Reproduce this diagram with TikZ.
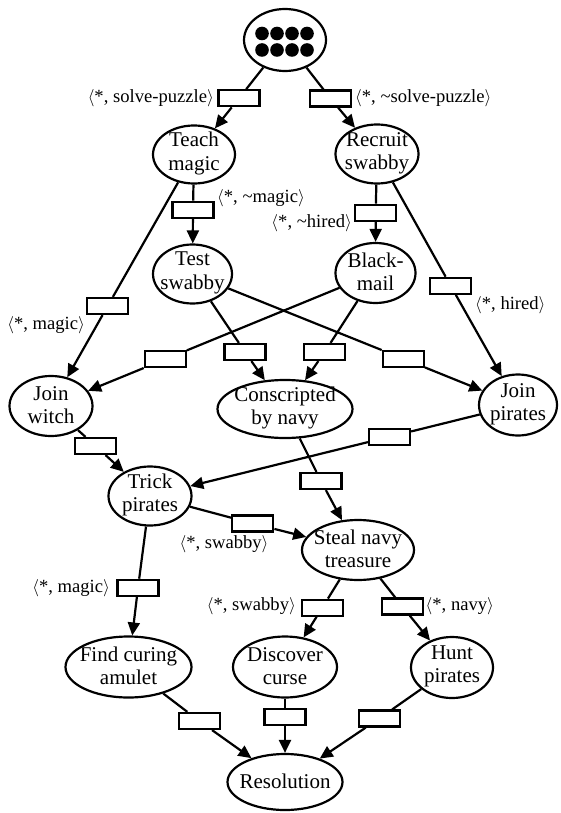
\documentclass[tikz,border=0pt]{standalone}
\usepackage{fontspec}
\setmainfont{Liberation Serif}
\usetikzlibrary{shapes.geometric,arrows.meta}
\begin{document}
\begin{tikzpicture}[x=1pt,y=-1pt,
  nodefont/.style={font=\fontsize{21}{23.3}\selectfont},
  st/.style args={#1/#2}{draw,ellipse,line width=2.2pt,inner sep=0pt,fill=white,
     minimum width=#1pt,minimum height=#2pt},
  txt/.style={label={[nodefont,align=center,inner sep=0pt,yshift=1pt]center:#1}},
  gbox/.style={draw,rectangle,line width=2.2pt,fill=white,inner sep=0pt,
     minimum width=41pt,minimum height=16pt},
  ln/.style={line width=2.2pt},
  arr/.style={line width=2.2pt,-{Triangle[length=13pt,width=12pt]}},
  lab/.style={font=\fontsize{18.6}{21}\selectfont,inner sep=0pt}
]
\fill[white] (0,0) rectangle (560,813);
\useasboundingbox (0,0) rectangle (560,813);

% states
\node[st=82/62] (top) at (285,40) {};
\foreach \x in {262,277,292,307}
  \foreach \y in {33.5,50}
    \fill (\x,\y) circle (6.8pt);
\node[st=82/58,txt={Teach\\magic}] (teach) at (194,154.5) {};
\node[st=83/59,txt={Recruit\\swabby}] (recruit) at (377,154) {};
\node[st=79/59,txt={Test\\swabby}] (test) at (192.5,274) {};
\node[st=80/60,txt={Black-\\mail}] (black) at (375.5,273) {};
\node[st=83/60,txt={Join\\witch}] (witch) at (51,406) {};
\node[st=135/58,txt={Conscripted\\by navy}] (navy) at (285,409) {};
\node[st=78/61,txt={Join\\pirates}] (jpir) at (518,405) {};
\node[st=83/59,txt={Trick\\pirates}] (trick) at (150,496) {};
\node[st=112/60,txt={Steal navy\\treasure}] (steal) at (358,550) {};
\node[st=126/61,txt={Find curing\\amulet}] (find) at (128.5,667) {};
\node[st=104/61,txt={Discover\\curse}] (disc) at (285,667) {};
\node[st=82/61,txt={Hunt\\pirates}] (hunt) at (452,667.5) {};
\node[st=115/56,txt={Resolution}] (res) at (285,782) {};

% transition boxes
\node[gbox] (b1) at (239,98.3) {};
\node[gbox] (b2) at (330.5,98.5) {};
\node[gbox] (b3) at (193,209.7) {};
\node[gbox] (b4) at (375.7,212.8) {};
\node[gbox] (b5) at (107.7,306) {};
\node[gbox] (b6) at (450.7,285.8) {};
\node[gbox] (bA) at (165.3,359.2) {};
\node[gbox] (bB) at (245,352) {};
\node[gbox] (bC) at (324.7,352) {};
\node[gbox] (bD) at (403.3,358.7) {};
\node[gbox] (b7) at (95.7,446) {};
\node[gbox] (b8) at (389.5,436.8) {};
\node[gbox] (b9) at (321,481) {};
\node[gbox] (b10) at (252.8,523.5) {};
\node[gbox] (b11) at (138,587.8) {};
\node[gbox] (b12) at (322.3,607.7) {};
\node[gbox] (b13) at (402.3,606.5) {};
\node[gbox] (b14) at (199.3,721) {};
\node[gbox] (b15) at (285,716.8) {};
\node[gbox] (b16) at (379.2,718.5) {};

% connectors
\draw[ln] (top) -- (b1); \draw[arr] (b1) -- (teach);
\draw[ln] (top) -- (b2); \draw[arr] (b2) -- (recruit);
\draw[ln] (teach) -- (b3); \draw[arr] (b3) -- (test);
\draw[ln] (recruit) -- (b4); \draw[arr] (b4) -- (black);
\draw[ln] (teach) -- (b5); \draw[arr] (b5) -- (witch);
\draw[ln] (recruit) -- (b6); \draw[arr] (b6) -- (jpir);
\draw[ln] (black) -- (bA); \draw[arr] (bA) -- (witch);
\draw[ln] (test) -- (bB); \draw[arr] (bB) -- (navy);
\draw[ln] (black) -- (bC); \draw[arr] (bC) -- (navy);
\draw[ln] (test) -- (bD); \draw[arr] (bD) -- (jpir);
\draw[ln] (witch) -- (b7); \draw[arr] (b7) -- (trick);
\draw[ln] (jpir) -- (b8); \draw[arr] (b8) -- (trick);
\draw[ln] (navy) -- (b9); \draw[arr] (b9) -- (steal);
\draw[ln] (trick) -- (b10); \draw[arr] (b10) -- (steal);
\draw[ln] (trick) -- (b11); \draw[arr] (b11) -- (find);
\draw[ln] (steal) -- (b12); \draw[arr] (b12) -- (disc);
\draw[ln] (steal) -- (b13); \draw[arr] (b13) -- (hunt);
\draw[ln] (find) -- (b14); \draw[arr] (b14) -- (res);
\draw[ln] (disc) -- (b15); \draw[arr] (b15) -- (res);
\draw[ln] (hunt) -- (b16); \draw[arr] (b16) -- (res);

% labels
\node[lab,anchor=east] (l1) at (214,98.3) {$\langle$*, solve-puzzle$\rangle$};
\node[lab,anchor=west] (l2) at (355,98) {$\langle$*, \textasciitilde solve-puzzle$\rangle$};
\node[lab,anchor=west] (l3) at (217,198) {$\langle$*, \textasciitilde magic$\rangle$};
\node[lab,anchor=east] (l4) at (352,223) {$\langle$*, \textasciitilde hired$\rangle$};
\node[lab,anchor=east] (l5) at (85,325) {$\langle$*, magic$\rangle$};
\node[lab,anchor=west] (l6) at (475,305) {$\langle$*, hired$\rangle$};
\node[lab] (l7) at (224,544) {$\langle$*, swabby$\rangle$};
\node[lab,anchor=east] (l8) at (110,587.7) {$\langle$*, magic$\rangle$};
\node[lab,anchor=east] (l9) at (296,606.5) {$\langle$*, swabby$\rangle$};
\node[lab,anchor=west] (l10) at (425.5,606) {$\langle$*, navy$\rangle$};
\end{tikzpicture}
\end{document}
